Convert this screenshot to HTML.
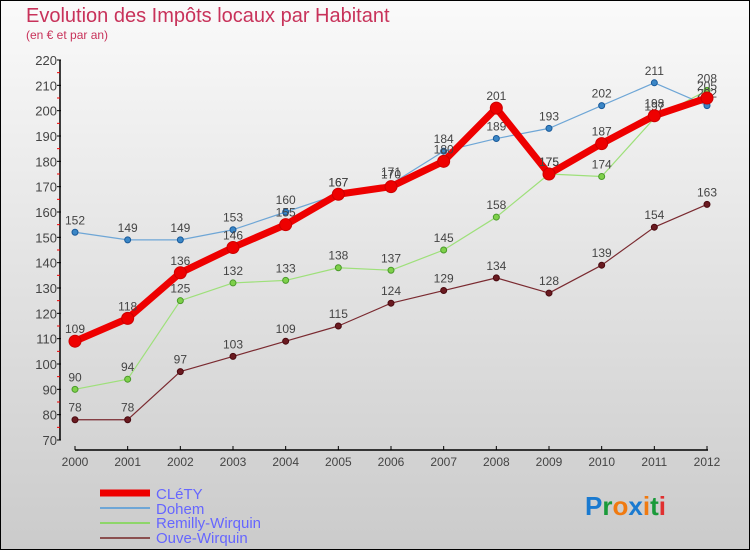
<!DOCTYPE html>
<html><head><meta charset="utf-8"><style>
body{margin:0}
#c{width:750px;height:550px;position:relative;box-sizing:border-box;border:1px solid #000;background:linear-gradient(#fafafa,#cbcbcb);font-family:"Liberation Sans",sans-serif;overflow:hidden}
</style></head><body>
<div id="c">
<svg width="750" height="550" style="position:absolute;left:-1px;top:-1px">
<text x="26" y="22" font-size="20" fill="#c8325a">Evolution des Impôts locaux par Habitant</text>
<text x="26" y="39" font-size="12" fill="#c8325a">(en € et par an)</text>
<g id="axes"></g>
<g id="series"></g>
<g font-size="15" fill="#6666ff">
<line x1="100" y1="493" x2="150" y2="493" stroke="#e00" stroke-width="7"/>
<text x="156" y="499">CLéTY</text>
<line x1="100" y1="508" x2="150" y2="508" stroke="#6ea6d6" stroke-width="2"/>
<text x="156" y="514">Dohem</text>
<line x1="100" y1="523" x2="150" y2="523" stroke="#8ed66a" stroke-width="2"/>
<text x="156" y="528">Remilly-Wirquin</text>
<line x1="100" y1="538" x2="150" y2="538" stroke="#8b5050" stroke-width="2"/>
<text x="156" y="543">Ouve-Wirquin</text>
</g>
<g font-size="26" font-family="'Liberation Sans',sans-serif" font-weight="bold">
<text x="585" y="515"><tspan fill="#1a7ad0">P</tspan><tspan fill="#1a9a3a">r</tspan><tspan fill="#f07a10">o</tspan><tspan fill="#1a7ad0">x</tspan><tspan fill="#f07a10">i</tspan><tspan fill="#1a9a3a">t</tspan><tspan fill="#e03030">i</tspan></text>
</g>
</svg>
<script>
const years=["2000","2001","2002","2003","2004","2005","2006","2007","2008","2009","2010","2011","2012"];
const yTicks=[70,80,90,100,110,120,130,140,150,160,170,180,190,200,210,220];
const clety=[109,118,136,146,155,167,170,180,201,175,187,198,205];
const dohem=[152,149,149,153,160,167,171,184,189,193,202,211,202];
const remilly=[90,94,125,132,133,138,137,145,158,175,174,197,208];
const ouve=[78,78,97,103,109,115,124,129,134,128,139,154,163];
const NS="http://www.w3.org/2000/svg";
function X(i){return 75+i*(632/12);}
function Y(v){return 440-(v-70)*(380/150);}
function mk(t,a,p){const e=document.createElementNS(NS,t);for(const k in a)e.setAttribute(k,a[k]);p.appendChild(e);return e;}
const ax=document.getElementById('axes');
let l=mk('line',{x1:60,y1:60,x2:60,y2:440,stroke:'#000','stroke-width':1.5},ax);


l=mk('line',{x1:75,y1:450,x2:708,y2:450,stroke:'#000','stroke-width':1.5},ax);


yTicks.forEach(v=>{
 mk('line',{x1:57,y1:Y(v),x2:61,y2:Y(v),stroke:'#000'},ax);
 if(v<220) mk('line',{x1:57,y1:Y(v+5),x2:60,y2:Y(v+5),stroke:'#e00'},ax);
 const t=mk('text',{x:57,y:Y(v)+5,'text-anchor':'end','font-size':13,fill:'#444'},ax);
 t.textContent=v;
 
 
});
years.forEach((y,i)=>{
 mk('line',{x1:X(i),y1:446,x2:X(i),y2:450,stroke:'#000'},ax);
 const t=mk('text',{x:X(i),y:466,'text-anchor':'middle','font-size':12,fill:'#444'},ax);
 t.textContent=y;
 
 
});
const sg=document.getElementById('series');
function series(name,data,col,w,dot,dcol,r){
 const g=mk('g',{},sg);
 
 
 const pl=mk('polyline',{points:data.map((v,i)=>X(i)+','+Y(v)).join(' '),fill:'none',stroke:col,'stroke-width':w,'stroke-linejoin':'round'},g);
 
 
 data.forEach((v,i)=>{
  const c=mk('circle',{cx:X(i),cy:Y(v),r:r,fill:dot,stroke:dcol,'stroke-width':1},g);
  
  
  const t=mk('text',{x:X(i),y:Y(v)-8,'text-anchor':'middle','font-size':12,fill:'#444'},g);
  t.textContent=v;
  
  
 });
}
series('ouve',ouve,'#7a2a30',1.2,'#6a1a20','#4a0a10',3);
series('remilly',remilly,'#9ee07a',1.2,'#7ed04a','#4a9a2a',3);
series('dohem',dohem,'#6ea6d6',1.2,'#3a86c6','#1a5a9a',3);
series('clety',clety,'#ee0000',7,'#ee0000','#cc0000',6);
</script>
</div>
</body></html>
